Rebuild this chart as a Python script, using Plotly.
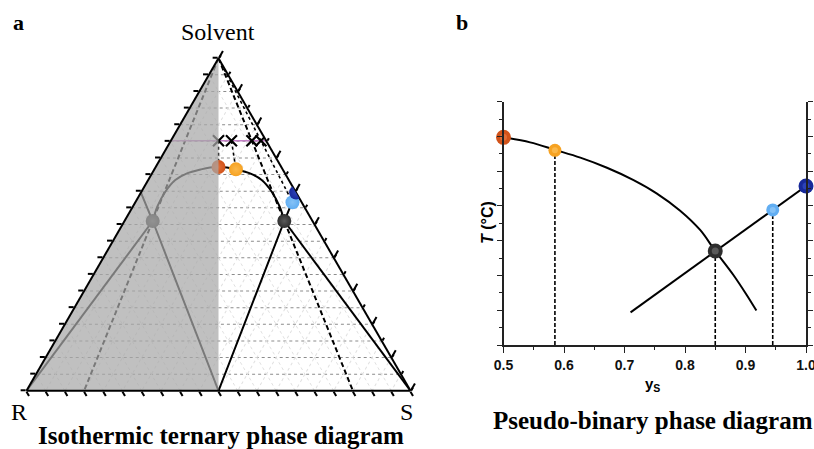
import plotly.graph_objects as go

# ---------------- ternary diagram: Solvent (top) / R (left) / S (right) ----------------
# compositions are given as solvent fraction and S share  ys = S / (R + S)

# solubility dome, right half (from the eutectic point up to the top)
DOME_SOLVENT = [0.5105, 0.5535, 0.5985, 0.6336, 0.6538, 0.6658, 0.6712, 0.6727]
DOME_YS = [0.850, 0.857, 0.845, 0.807, 0.737, 0.636, 0.567, 0.500]

# characteristic points (red, orange, eutectic, light blue, dark blue)
TERN_SOLVENT = [0.6727, 0.6658, 0.5105, 0.567, 0.596]
TERN_YS = [0.500, 0.636, 0.850, 0.945, 1.000]
POINT_COLORS = ["#d2531a", "#f6a222", "#2e2e2e", "#62aef2", "#17299a"]
POINT_HILITE = ["#e06e38", "#fbb84a", "#5a5a5a", "#86c2f6", "#2c43b8"]

# initial solution line and the feed compositions on it
FEED_SOLVENT = 0.7517
FEED_YS = [0.500, 0.636, 0.850, 0.945]

# ---------------- pseudo-binary diagram ----------------
CURVE_YS = [0.500, 0.544, 0.586, 0.627, 0.671, 0.715, 0.753, 0.792, 0.825, 0.850, 0.880, 0.902, 0.918]
CURVE_T = [11.95, 11.66, 11.22, 10.78, 10.20, 9.49, 8.73, 7.73, 6.62, 5.41, 4.03, 2.88, 1.98]
LINE_YS = [0.710, 0.850, 0.945, 1.000]
LINE_T = [1.88, 5.41, 7.77, 9.15]
BIN_YS = [0.500, 0.585, 0.850, 0.945, 1.000]
BIN_T = [11.95, 11.20, 5.41, 7.77, 9.15]
X_TICKS = [0.5, 0.6, 0.7, 0.8, 0.9, 1.0]
X_TICKTEXT = ["0.5", "0.6", "0.7", "0.8", "0.9", "1.0"]

W, H = 814, 449
SERIF = "Liberation Serif"
SANS = "Liberation Sans"


def abc(solvent, ys):
    """(solvent fraction, S share) -> ternary a, b, c lists."""
    a = list(solvent)
    b = [(1 - s) * (1 - y) for s, y in zip(solvent, ys)]
    c = [(1 - s) * y for s, y in zip(solvent, ys)]
    return a, b, c


def tline(solvent, ys, color="black", width=2, dash="solid", shape="linear"):
    a, b, c = abc(solvent, ys)
    return go.Scatterternary(a=a, b=b, c=c, mode="lines", hoverinfo="skip",
                             line=dict(color=color, width=width, dash=dash, shape=shape,
                                       smoothing=0.8))


def tpoints(idx, subplot, extra=None):
    sol = [TERN_SOLVENT[i] for i in idx]
    ys = [TERN_YS[i] for i in idx]
    col = [POINT_COLORS[i] for i in idx]
    hil = [POINT_HILITE[i] for i in idx]
    if extra:
        sol, ys = sol + [extra[0]], ys + [extra[1]]
        col, hil = col + [POINT_COLORS[2]], hil + [POINT_HILITE[2]]
    a, b, c = abc(sol, ys)
    return go.Scatterternary(a=a, b=b, c=c, mode="markers", hoverinfo="skip", subplot=subplot,
                             marker=dict(size=14, color=col,
                                         gradient=dict(type="radial", color=hil),
                                         line=dict(width=0)))


fig = go.Figure()

# dome over the whole triangle (left half is the mirror image)
dome_sol = DOME_SOLVENT + DOME_SOLVENT[::-1][1:]
dome_ys = [1 - y for y in DOME_YS] + DOME_YS[::-1][1:]
fig.add_trace(tline(dome_sol, dome_ys, width=2, shape="spline"))

eut_sol = TERN_SOLVENT[2]
eut_ys = TERN_YS[2]
edge_sol = TERN_SOLVENT[4]
# tie lines to the pure enantiomer corners
fig.add_trace(tline([eut_sol, 0.0], [eut_ys, 1.0]))
fig.add_trace(tline([eut_sol, 0.0], [1 - eut_ys, 0.0]))
# lines from the racemate (bottom middle) through the eutectic points to the edges
fig.add_trace(tline([0.0, eut_sol, edge_sol], [0.5, eut_ys, 1.0]))
fig.add_trace(tline([0.0, eut_sol, edge_sol], [0.5, 1 - eut_ys, 0.0]))
# dilution lines from the solvent corner
fig.add_trace(tline([1.0, 0.0], [eut_ys, eut_ys], width=2, dash="5px,3px"))
fig.add_trace(tline([1.0, 0.0], [1 - eut_ys, 1 - eut_ys], width=2, dash="5px,3px"))
fig.add_trace(tline([1.0, TERN_SOLVENT[3]], [TERN_YS[3], TERN_YS[3]], width=1.6, dash="dot"))
for k in (0, 1):
    fig.add_trace(tline([FEED_SOLVENT, TERN_SOLVENT[k]], [TERN_YS[k], TERN_YS[k]],
                        width=1.6, dash="dot"))

# feed line
fig.add_trace(tline([FEED_SOLVENT, FEED_SOLVENT], [0.0, 1.0], color="#c27fc4", width=1.6))
fa, fb, fc = abc([FEED_SOLVENT] * len(FEED_YS), FEED_YS)
fig.add_trace(go.Scatterternary(a=fa, b=fb, c=fc, mode="markers", hoverinfo="skip",
                                marker=dict(symbol="x-thin", size=11,
                                            line=dict(color="black", width=2.2))))

# racemate point on the boundary and the mirrored eutectic point (partly shaded)
fig.add_trace(tpoints([0], "ternary", extra=(eut_sol, 1 - eut_ys)))

# shaded R-rich half of the triangle, laid over the marks beneath it
fig.add_trace(go.Scatterternary(a=[1, 0, 0, 1], b=[0, 1, 0.5, 0], c=[0, 0, 0.5, 0],
                                mode="lines", fill="toself", hoverinfo="skip",
                                fillcolor="rgba(168,168,168,0.72)", line=dict(width=0)))

# remaining points sit on a second ternary stacked on top (above the frame lines),
# which also carries the long ticks of the right edge
fig.add_trace(tpoints([1, 2, 3, 4], "ternary2"))

# ---------------- pseudo-binary traces ----------------
for x, t in zip(BIN_YS[1:4], BIN_T[1:4]):
    fig.add_trace(go.Scatter(x=[x, x], y=[0, t], mode="lines", hoverinfo="skip",
                             line=dict(color="black", width=1.6, dash="4px,2px"),
                             xaxis="x", yaxis="y"))
fig.add_trace(go.Scatter(x=CURVE_YS, y=CURVE_T, mode="lines", hoverinfo="skip",
                         line=dict(color="black", width=2, shape="spline"),
                         xaxis="x", yaxis="y"))
fig.add_trace(go.Scatter(x=LINE_YS, y=LINE_T, mode="lines", hoverinfo="skip",
                         line=dict(color="black", width=2), xaxis="x", yaxis="y"))
fig.add_trace(go.Scatter(x=BIN_YS, y=BIN_T, mode="markers", hoverinfo="skip", cliponaxis=False,
                         marker=dict(size=[15, 13, 15, 13, 15], color=POINT_COLORS,
                                     opacity=1, line=dict(width=0)),
                         xaxis="x", yaxis="y"))
# small highlight on each point for a rounded look
fig.add_trace(go.Scatter(x=BIN_YS, y=BIN_T, mode="markers", hoverinfo="skip", cliponaxis=False,
                         marker=dict(size=[7, 6, 7, 6, 7], color=POINT_HILITE,
                                     opacity=1, line=dict(width=0)),
                         xaxis="x", yaxis="y"))


def tern_axis(dtick, ticklen, grid=None, line=True):
    d = dict(title=dict(text=""), showticklabels=False, min=0,
             ticks="outside", dtick=dtick, tick0=0, ticklen=ticklen,
             tickwidth=1.5, tickcolor="black",
             showline=line, linecolor="black", linewidth=2)
    if grid:
        d.update(showgrid=True, gridcolor=grid, griddash="dot", gridwidth=1)
    else:
        d.update(showgrid=False)
    return d


tern_dom = dict(x=[26.5 / W, 410.5 / W], y=[1 - 391 / H, 1 - 58 / H])
no_axis = dict(title=dict(text=""), showticklabels=False, ticks="", showline=False,
               showgrid=False, min=0)

fig.update_layout(
    width=W, height=H, margin=dict(l=0, r=0, t=0, b=0, autoexpand=False),
    paper_bgcolor="white", plot_bgcolor="white", showlegend=False,
    ternary=dict(
        domain=tern_dom, sum=1, bgcolor="white",
        aaxis=tern_axis(0.05, 5, grid="#8c8c8c"),
        baxis=tern_axis(0.05, 5, grid="#e0e0e0"),
        caxis=tern_axis(0.05, 3, grid="#e0e0e0"),
    ),
    ternary2=dict(
        domain=tern_dom, sum=1, bgcolor="rgba(0,0,0,0)",
        aaxis=no_axis, baxis=no_axis,
        caxis=dict(title=dict(text=""), showticklabels=False, min=0, ticks="outside",
                   dtick=0.1, tick0=0, ticklen=8, tickwidth=1.5, tickcolor="black",
                   showline=False, showgrid=False),
    ),
    xaxis=dict(domain=[503.5 / W, 806 / W], range=[0.5, 1.0], anchor="y",
               showline=True, linecolor="#222", linewidth=1.5, zeroline=False, showgrid=False,
               ticks="outside", ticklen=6, tickwidth=1.2, tickcolor="#222",
               tickvals=X_TICKS, ticktext=X_TICKTEXT, ticklabeloverflow="allow",
               minor=dict(dtick=0.05, tick0=0.5, ticks="outside", ticklen=3, tickcolor="#222"),
               tickfont=dict(family=SANS, size=14, color="#111", weight="bold")),
    yaxis=dict(domain=[1 - 345 / H, 1 - 101.7 / H], range=[0, 14], anchor="x",
               showline=True, linecolor="#222", linewidth=1.5, zeroline=False, showgrid=False,
               mirror="ticks", ticks="outside", ticklen=5, tickwidth=1.2, tickcolor="#222",
               dtick=2, tick0=0, showticklabels=False,
               minor=dict(dtick=1, tick0=0, ticks="outside", ticklen=3, tickcolor="#222")),
)


def label(text, x, y, size, family=SERIF, bold=False, angle=0, color="black"):
    fig.add_annotation(text=text, x=x / W, y=1 - y / H, xref="paper", yref="paper",
                       xanchor="center", yanchor="middle", showarrow=False, textangle=angle,
                       font=dict(family=family, size=size, color=color,
                                 weight="bold" if bold else "normal"))


label("a", 18, 22, 22, bold=True)
label("b", 462, 22, 22, bold=True)
label("Solvent", 218, 32, 24)
label("R", 19, 412, 24)
label("S", 406, 412, 24)
label("Isothermic ternary phase diagram", 221, 435, 25, bold=True)
label("Pseudo-binary phase diagram", 653, 420, 25, bold=True)
label("<i>T</i> (°C)", 487, 223, 16, family=SANS, bold=True, angle=-90)
label("y<sub>S</sub>", 652, 384, 15, family=SANS, bold=True)

fig.write_html("out.html")
